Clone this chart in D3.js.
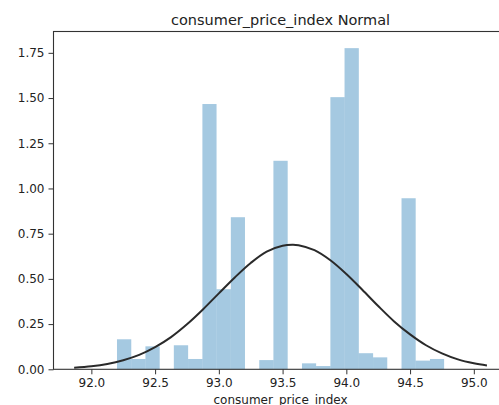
<!DOCTYPE html>
<html>
<head>
<meta charset="utf-8">
<script src="https://cdn.jsdelivr.net/npm/d3@7"></script>
<style>
  html, body { margin: 0; padding: 0; background: #fff; }
  svg { display: block; }
  text { font-family: "DejaVu Sans", sans-serif; fill: #222; }
</style>
</head>
<body>
<svg id="chart" width="499" height="405"></svg>
<script>
// Histogram bin edges (consumer price index) and density per bin
const binEdges = [92.201, 92.313, 92.424, 92.536, 92.647, 92.759, 92.871, 92.982, 93.094,
                  93.205, 93.317, 93.428, 93.540, 93.652, 93.763, 93.875, 93.986, 94.098,
                  94.210, 94.321, 94.433, 94.544, 94.656, 94.767];
const binDensity = [0.166, 0.057, 0.127, 0, 0.133, 0.057, 1.467, 0.443, 0.841,
                    0, 0.051, 1.153, 0, 0.033, 0.018, 1.505, 1.776, 0.089,
                    0.066, 0, 0.946, 0.048, 0.057];

// Fitted normal density, sampled along x
const fitX = [91.865, 92.0, 92.125, 92.25, 92.375, 92.5, 92.625, 92.75, 92.875, 93.0,
              93.125, 93.25, 93.375, 93.5, 93.576, 93.625, 93.75, 93.875, 94.0, 94.125,
              94.25, 94.375, 94.5, 94.625, 94.75, 94.875, 95.0, 95.103];
const fitY = [0.0088, 0.0169, 0.0297, 0.0501, 0.0796, 0.1227, 0.1782, 0.2490, 0.3310, 0.4200,
              0.5080, 0.5880, 0.6510, 0.6830, 0.6890, 0.6865, 0.6590, 0.6030, 0.5270, 0.4400,
              0.3500, 0.2650, 0.1930, 0.1330, 0.0880, 0.0550, 0.0335, 0.0213];

const xTicks = [92.0, 92.5, 93.0, 93.5, 94.0, 94.5, 95.0];
const yTicks = [0, 0.25, 0.5, 0.75, 1.0, 1.25, 1.5, 1.75];

const svg = d3.select("#chart");
const plotLeft = 53.5, plotRight = 507.6, plotTop = 31.5, plotBottom = 369.3;

const x = d3.scaleLinear().domain([91.703, 95.265]).range([plotLeft, plotRight]);
const y = d3.scaleLinear().domain([0, 1.868]).range([plotBottom, plotTop]);

// Histogram bars
const bins = binDensity.map((d, i) => ({ x0: binEdges[i], x1: binEdges[i + 1], v: d }));
svg.append("g")
  .selectAll("rect")
  .data(bins.filter(b => b.v > 0))
  .join("rect")
  .attr("x", d => x(d.x0))
  .attr("width", d => x(d.x1) - x(d.x0))
  .attr("y", d => y(d.v))
  .attr("height", d => y(0) - y(d.v))
  .attr("fill", "#1f77b4")
  .attr("fill-opacity", 0.4);

// Normal fit line
const fitPts = fitX.map((v, i) => [v, fitY[i]]);
svg.append("path")
  .datum(fitPts)
  .attr("fill", "none")
  .attr("stroke", "#2a2a2a")
  .attr("stroke-width", 2)
  .attr("d", d3.line().x(d => x(d[0])).y(d => y(d[1])).curve(d3.curveCatmullRom));

// Axes
const xAxis = svg.append("g")
  .attr("transform", `translate(0,${plotBottom})`)
  .call(d3.axisBottom(x).tickValues(xTicks).tickFormat(d3.format(".1f")).tickSize(5).tickPadding(4));
const yAxis = svg.append("g")
  .attr("transform", `translate(${plotLeft},0)`)
  .call(d3.axisLeft(y).tickValues(yTicks).tickFormat(d3.format(".2f")).tickSize(5).tickPadding(4));

[xAxis, yAxis].forEach(g => {
  g.select(".domain").remove();
  g.selectAll(".tick line").attr("stroke", "#333").attr("stroke-width", 1);
  g.selectAll(".tick text").attr("font-size", 12).attr("fill", "#2a2a2a")
    .attr("font-family", "DejaVu Sans, sans-serif");
});

// Frame
svg.append("rect")
  .attr("x", plotLeft).attr("y", plotTop)
  .attr("width", plotRight - plotLeft).attr("height", plotBottom - plotTop)
  .attr("fill", "none").attr("stroke", "#333").attr("stroke-width", 1.1);

// Title and axis label
svg.append("text")
  .attr("x", (plotLeft + plotRight) / 2).attr("y", 24.5)
  .attr("text-anchor", "middle").attr("font-size", 14.5)
  .text("consumer_price_index Normal");
svg.append("text")
  .attr("x", (plotLeft + plotRight) / 2).attr("y", 403.5)
  .attr("text-anchor", "middle").attr("font-size", 12)
  .text("consumer_price_index");
</script>
</body>
</html>
